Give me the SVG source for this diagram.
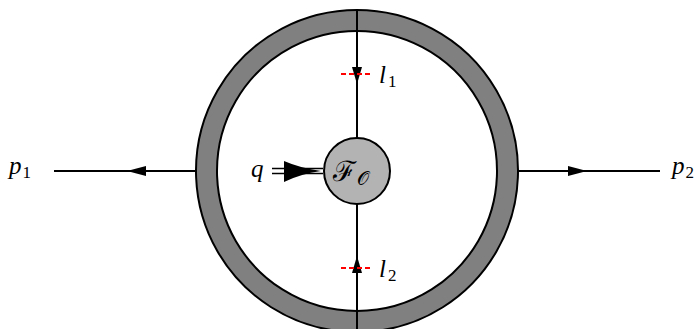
<svg xmlns="http://www.w3.org/2000/svg" width="699" height="329" viewBox="0 0 699 329">
<style>
.ln{stroke:#000;stroke-width:2;fill:none}
.ah{fill:#000;stroke:none}
.cut{stroke:#ff0000;stroke-width:2;stroke-dasharray:5,3;fill:none}
.lbl{font-family:'Liberation Serif',serif;font-style:italic;font-size:25px;fill:#000}
.sub{font-style:normal;font-size:17px}
</style>
<rect width="699" height="329" fill="#fff"/>
<g id="ring">
<path d="M357,10 a161,161 0 1,0 0.001,0 Z M357,31 a140,140 0 1,0 0.001,0 Z" fill="#808080" fill-rule="evenodd" stroke="#000" stroke-width="2"/>
</g>
<g id="connectors">
<line class="ln" x1="357" y1="10" x2="357" y2="138"/>
<line class="ln" x1="357" y1="204" x2="357" y2="329"/>
<line class="ln" x1="54" y1="171" x2="196" y2="171"/>
<line class="ln" x1="518" y1="171" x2="660" y2="171"/>
<path class="ah" d="M352,67 L362,67 L357,84 Z"/>
<path class="ah" d="M352,273 L362,273 L357,256 Z"/>
<path class="ah" d="M146,166 L146,176 L127,171 Z"/>
<path class="ah" d="M568,166 L568,176 L587,171 Z"/>
<line x1="272" y1="168.5" x2="323" y2="168.5" stroke="#000" stroke-width="1.6"/>
<line x1="272" y1="173.5" x2="323" y2="173.5" stroke="#000" stroke-width="1.6"/>
<path class="ah" d="M284,161 Q300,168 321,171 Q300,174 284,182 Z"/>
<line class="cut" x1="341" y1="74" x2="373" y2="74"/>
<line class="cut" x1="341" y1="268" x2="373" y2="268"/>
</g>
<g id="blob">
<circle cx="357" cy="171" r="33" fill="#b3b3b3" stroke="#000" stroke-width="2"/>
<text x="333" y="181" font-family="DejaVu Serif, serif" font-size="28">ℱ<tspan font-size="19" dx="1" dy="4">𝒪</tspan></text>
</g>
<g id="l1"><text class="lbl" x="379" y="83">l<tspan class="sub" dx="2" dy="4">1</tspan></text></g>
<g id="l2"><text class="lbl" x="379" y="277">l<tspan class="sub" dx="2" dy="4">2</tspan></text></g>
<g id="p1"><text class="lbl" x="9" y="174">p<tspan class="sub" dx="1" dy="4">1</tspan></text></g>
<g id="p2"><text class="lbl" x="672" y="174">p<tspan class="sub" dx="1" dy="4">2</tspan></text></g>
<g id="q"><text class="lbl" x="251" y="177">q</text></g>
</svg>
